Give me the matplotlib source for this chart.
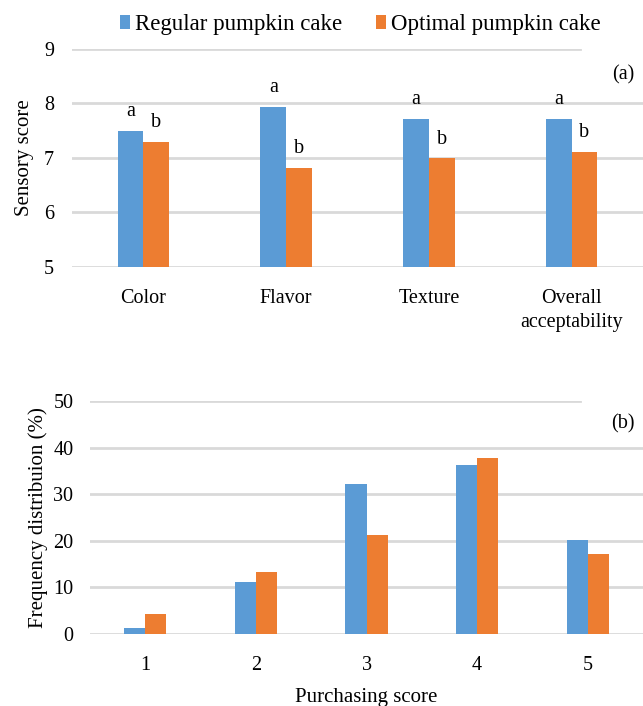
import numpy as np
import matplotlib
matplotlib.use("Agg")
import matplotlib.pyplot as plt

# panel (a): sensory scores
attributes = ["Color", "Flavor", "Texture", "Overall\nacceptability"]
regular_sensory = [7.50, 7.93, 7.71, 7.71]
optimal_sensory = [7.29, 6.82, 6.99, 7.11]
regular_letters = ["a", "a", "a", "a"]
optimal_letters = ["b", "b", "b", "b"]

# panel (b): purchasing score distribution
purchase_scores = ["1", "2", "3", "4", "5"]
regular_freq = [1.2, 11.2, 32.2, 36.2, 20.2]
optimal_freq = [4.2, 13.2, 21.3, 37.7, 17.2]

series_names = ["Regular pumpkin cake", "Optimal pumpkin cake"]
BLUE = "#5B9BD5"
ORANGE = "#ED7D31"
GRID = "#D9D9D9"

plt.rcParams["font.family"] = ["Liberation Serif", "DejaVu Serif"]


def style_axes(ax, ticks, top_cut):
    for s in ax.spines.values():
        s.set_visible(False)
    ax.tick_params(length=0, labelsize=14.5)
    ax.set_yticks(ticks)
    for t in ticks:
        xmax = top_cut if t == ticks[-1] else 1.0
        ax.axhline(t, xmin=0, xmax=xmax, color=GRID, lw=2, zorder=0)


def plot_sensory(ax):
    x = np.arange(len(attributes))
    w = 0.18
    ax.bar(x - w / 2, regular_sensory, w, color=BLUE, zorder=2)
    ax.bar(x + w / 2, optimal_sensory, w, color=ORANGE, zorder=2)
    for xi, v, lab in zip(x - w / 2, regular_sensory, regular_letters):
        ax.annotate(lab, (xi, v), xytext=(0, 7), textcoords="offset points",
                    ha="center", va="bottom", fontsize=14.5)
    for xi, v, lab in zip(x + w / 2, optimal_sensory, optimal_letters):
        ax.annotate(lab, (xi, v), xytext=(0, 7), textcoords="offset points",
                    ha="center", va="bottom", fontsize=14.5)
    ax.set_ylim(5, 9)
    ax.set_xlim(-0.5, len(attributes) - 0.5)
    style_axes(ax, [5, 6, 7, 8, 9], 0.89)
    ax.set_xticks(x)
    ax.set_xticklabels(attributes, linespacing=1.35)
    ax.tick_params(axis="x", pad=16)
    ax.tick_params(axis="y", pad=13)
    ax.set_ylabel("Sensory score", fontsize=15, labelpad=7)
    ax.text(0.985, 0.88, "(a)", transform=ax.transAxes, ha="right",
            va="center", fontsize=14.5)


def plot_purchase(ax):
    x = np.arange(len(purchase_scores))
    w = 0.19
    ax.bar(x - w / 2, regular_freq, w, color=BLUE, zorder=2,
           label=series_names[0])
    ax.bar(x + w / 2, optimal_freq, w, color=ORANGE, zorder=2,
           label=series_names[1])
    ax.set_ylim(0, 50)
    ax.set_xlim(-0.5, len(purchase_scores) - 0.5)
    style_axes(ax, [0, 10, 20, 30, 40, 50], 0.886)
    ax.set_xticks(x)
    ax.set_xticklabels(purchase_scores)
    ax.tick_params(axis="x", pad=16)
    ax.tick_params(axis="y", pad=12)
    ax.set_ylabel("Frequency distribuion (%)", fontsize=15, labelpad=4)
    ax.set_xlabel("Purchasing score", fontsize=15, labelpad=9)
    ax.text(0.985, 0.9, "(b)", transform=ax.transAxes, ha="right",
            va="center", fontsize=14.5)


fig = plt.figure(figsize=(6.43, 7.06), dpi=100)
ax_a = fig.add_axes([0.112, 0.622, 0.888, 0.309])
ax_b = fig.add_axes([0.14, 0.102, 0.86, 0.330])
plot_sensory(ax_a)
plot_purchase(ax_b)

handles, labels = ax_b.get_legend_handles_labels()
fig.legend(handles, labels, loc="center", bbox_to_anchor=(0.56, 0.965),
           ncol=2, frameon=False, fontsize=16.5, handlelength=0.45,
           handleheight=0.6, handletextpad=0.2, columnspacing=1.5)

fig.savefig("out.png", dpi=100)
